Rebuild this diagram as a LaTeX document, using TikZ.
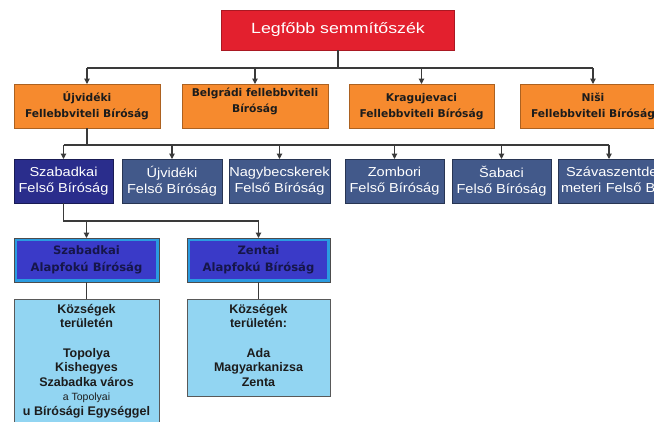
\documentclass[tikz,border=0pt]{standalone}
\usepackage{fontspec}
\setmainfont{Liberation Sans}
\newfontfamily\titlefont[FakeStretch=1.2]{Liberation Sans}
\newfontfamily\rowfont[FakeStretch=1.12]{Liberation Sans}
\newfontfamily\boldsans{DejaVu Sans}
\usetikzlibrary{arrows.meta}
\definecolor{cred}{HTML}{E3202E}
\definecolor{corange}{HTML}{F68A2E}
\definecolor{cslate}{HTML}{42598A}
\definecolor{cnavy}{HTML}{2A2D8C}
\definecolor{croyal}{HTML}{3A3AC8}
\definecolor{cband}{HTML}{2A9BE0}
\definecolor{clight}{HTML}{92D5F2}
\definecolor{cline}{HTML}{3A3A3A}
\definecolor{ctext}{HTML}{1C1C1C}
\definecolor{cdark}{HTML}{16164A}
\begin{document}
\begin{tikzpicture}[x=1pt,y=-1pt,
  ln/.style={draw=cline, line width=1.1pt},
  arr/.style={ln, -{Triangle[length=5.5pt,width=5.5pt]}},
  box/.style={rectangle, inner sep=0pt, outer sep=0pt, align=center},
  redbox/.style={box, fill=cred, draw=cred!75!black, line width=0.8pt, text=white,
    font=\titlefont\fontsize{14.8}{17}\selectfont},
  orbox/.style={box, fill=corange, draw=corange!70!black, line width=0.8pt, text=ctext,
    font=\boldsans\bfseries\fontsize{10.7}{16}\selectfont},
  slbox/.style={box, fill=cslate, draw=cslate!60!black, line width=0.8pt, text=white,
    font=\rowfont\fontsize{13}{16}\selectfont},
  nvbox/.style={slbox, fill=cnavy, draw=cnavy!60!black},
  bluebox/.style={box, fill=cband, draw=black!70, line width=0.8pt, text=cdark,
    font=\boldsans\bfseries\fontsize{11.6}{16.5}\selectfont,
    path picture={\fill[croyal] ([shift={(3pt,-3pt)}]path picture bounding box.north west)
      rectangle ([shift={(-3pt,3pt)}]path picture bounding box.south east);}},
  lightbox/.style={box, fill=clight, draw=black!65, line width=0.8pt},
  ltext/.style={align=center, inner sep=0pt, text=ctext,
    font=\bfseries\fontsize{12.5}{14.6}\selectfont}
]
\useasboundingbox (0,0) rectangle (654,421);
\fill[white] (0,0) rectangle (654,421);
\clip (0,0) rectangle (654,421);

% top
\node[redbox, minimum width=233pt, minimum height=40pt] (top) at (338,30) {Legfőbb semmítőszék};

% appellate courts
\node[orbox, minimum width=146pt, minimum height=44pt] (o1) at (87,106) {Újvidéki\\Fellebbviteli Bíróság};
\node[orbox, minimum width=146pt, minimum height=44pt] (o2) at (255,106) {Belgrádi fellebbviteli\\Bíróság\\[-5pt]};
\node[orbox, minimum width=145pt, minimum height=44pt] (o3) at (421.5,106) {\\[-6pt]Kragujevaci\\Fellebbviteli Bíróság};
\node[orbox, minimum width=146pt, minimum height=44pt] (o4) at (593,106) {Niši\\Fellebbviteli Bíróság};

% higher courts
\node[nvbox, minimum width=99pt, minimum height=44pt] (b1) at (63.5,181) {Szabadkai\\Felső Bíróság};
\node[slbox, minimum width=100pt, minimum height=44pt] (b2) at (172,181) {Újvidéki\\Felső Bíróság};
\node[slbox, minimum width=101pt, minimum height=44pt] (b3) at (279.5,181) {Nagybecskerek\\Felső Bíróság};
\node[slbox, minimum width=99pt, minimum height=44pt] (b4) at (394.5,181) {Zombori\\Felső Bíróság};
\node[slbox, minimum width=99pt, minimum height=44pt] (b5) at (501.5,181) {Šabaci\\Felső Bíróság};
\node[slbox, minimum width=102pt, minimum height=44pt, text width=96pt, align=left] (b6) at (609,181)
  {\mbox{\hspace*{5pt}Szávaszentde}\\\mbox{meteri Felső Bíróság}};

% basic courts
\node[bluebox, minimum width=145pt, minimum height=44pt] (c1) at (86.5,260) {Szabadkai\\Alapfokú Bíróság};
\node[bluebox, minimum width=143pt, minimum height=44pt] (c2) at (258.5,260) {Zentai\\Alapfokú Bíróság};

% territories
\node[lightbox, minimum width=145pt, minimum height=141pt] (d1) at (86.5,369.5) {};
\node[lightbox, minimum width=143pt, minimum height=97pt] (d2) at (258.5,347.5) {};
\node[ltext, anchor=north] (t1) at (86.5,304) {Községek\\területén\\ \\Topolya\\Kishegyes\\Szabadka város\\
  {\mdseries\fontsize{10.5}{14.6}\selectfont a Topolyai}\\u Bírósági Egységgel};
\node[ltext, anchor=north] (t2) at (258.5,304) {Községek\\területén:\\ \\Ada\\Magyarkanizsa\\Zenta};

% connectors
\coordinate (bus1) at (338,68);
\coordinate (bus2) at (87,145);
\coordinate (bus3) at (63.5,221);
\draw[ln] (top.south) -- (top.south |- bus1);
\draw[ln] (o1.north |- bus1) -- (o4.north |- bus1);
\foreach \n in {o1,o2,o3,o4} \draw[arr] (\n.north |- bus1) -- (\n.north);
\draw[ln] (o1.south) -- (o1.south |- bus2);
\draw[ln] (b1.north |- bus2) -- (b6.north |- bus2);
\foreach \n in {b1,b2,b3,b4,b5,b6} \draw[arr] (\n.north |- bus2) -- (\n.north);
\draw[ln] (b1.south) -- (b1.south |- bus3) -- (c2.north |- bus3);
\foreach \n in {c1,c2} \draw[arr] (\n.north |- bus3) -- (\n.north);
\draw[ln] (c1.south) -- (d1.north);
\draw[ln] (c2.south) -- (d2.north);
\end{tikzpicture}
\end{document}
